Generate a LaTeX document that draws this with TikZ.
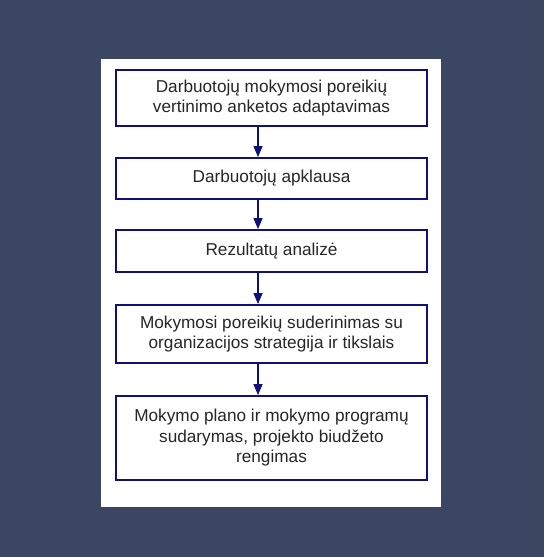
\documentclass[tikz,border=0pt]{standalone}
\usepackage{fontspec}
\setmainfont{Liberation Sans}
\usetikzlibrary{arrows.meta}
\definecolor{slatebg}{HTML}{3B4762}
\definecolor{boxnavy}{HTML}{10107A}
\definecolor{textgray}{HTML}{262626}

\begin{document}
\begin{tikzpicture}[x=1pt, y=-1pt,
  every node/.style={align=center, font=\fontsize{17.2}{20.5}\selectfont, text=textgray},
  stepbox/.style={draw=boxnavy, line width=1.8pt, fill=white, minimum width=311pt, inner sep=0pt},
  flow/.style={-{Triangle[width=9pt,length=11pt]}, draw=boxnavy, fill=boxnavy, line width=1.2pt}]
% Background and white sheet
\fill[slatebg] (0,0) rectangle (544,557);
\useasboundingbox (0,0) rectangle (544,557);
\fill[white] (101,59) rectangle (441,507);

% Steps
\node[stepbox, minimum height=56pt] (adapt) at (271.5,98) {Darbuotojų mokymosi poreikių\\vertinimo anketos adaptavimas};
\node[stepbox, minimum height=41pt] (survey) at (271.5,178.5) {Darbuotojų apklausa};
\node[stepbox, minimum height=42pt] (analysis) at (271.5,251) {Rezultatų analizė};
\node[stepbox, minimum height=58pt] (align) at (271.5,334) {Mokymosi poreikių suderinimas su\\organizacijos strategija ir tikslais};
\node[stepbox, minimum height=84pt] (plan) at (271.5,438) {Mokymo plano ir mokymo programų\\sudarymas, projekto biudžeto\\rengimas};

% Arrows
\draw[flow] ([xshift=-13.5pt]adapt.south) -- ([xshift=-13.5pt]survey.north);
\draw[flow] ([xshift=-13.5pt]survey.south) -- ([xshift=-13.5pt]analysis.north);
\draw[flow] ([xshift=-13.5pt]analysis.south) -- ([xshift=-13.5pt]align.north);
\draw[flow] ([xshift=-13.5pt]align.south) -- ([xshift=-13.5pt]plan.north);
\end{tikzpicture}
\end{document}
